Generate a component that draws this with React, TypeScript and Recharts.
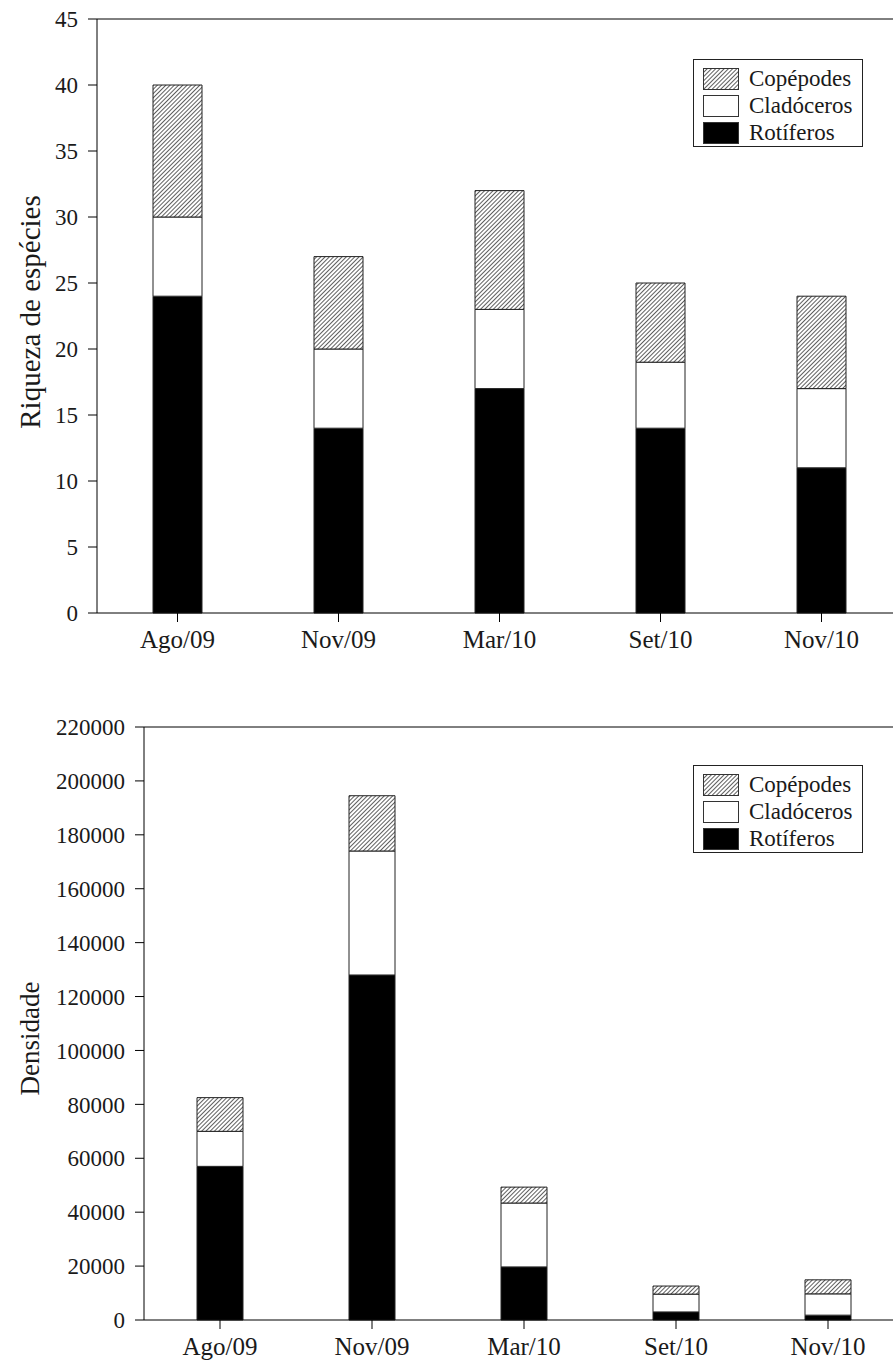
import React from "react";
import { Bar, BarChart, Legend, ReferenceLine, XAxis, YAxis } from "recharts";

const months = ["Ago/09", "Nov/09", "Mar/10", "Set/10", "Nov/10"];

// riqueza de espécies (top panel)
const riquezaRot = [24, 14, 17, 14, 11];
const riquezaClad = [6, 6, 6, 5, 6];
const riquezaCop = [10, 7, 9, 6, 7];
const riquezaTicks = [0, 5, 10, 15, 20, 25, 30, 35, 40, 45];

// densidade (bottom panel)
const densRot = [57000, 128000, 19700, 3000, 1800];
const densClad = [13000, 46000, 23700, 6600, 7900];
const densCop = [12500, 20500, 5900, 3000, 5200];
const densTicks = [0, 20000, 40000, 60000, 80000, 100000, 120000, 140000, 160000, 180000, 200000, 220000];

const FONT = "Liberation Serif, Times New Roman, DejaVu Serif, serif";
const INK = "#1a1a1a";

const buildRows = (rot: number[], clad: number[], cop: number[]) =>
  months.map((m, i) => ({ month: m, rot: rot[i], clad: clad[i], cop: cop[i] }));

const Hatch = ({ id }: { id: string }) => (
  <pattern id={id} patternUnits="userSpaceOnUse" width={3} height={3} patternTransform="rotate(45)">
    <rect width={3} height={3} fill="#ffffff" />
    <line x1={0} y1={0} x2={0} y2={3} stroke="#1a1a1a" strokeWidth={1.4} />
  </pattern>
);

function LegendBox({ hatchId }: { hatchId: string }) {
  const items = [
    { label: "Copépodes", fill: `url(#${hatchId}-lg)` },
    { label: "Cladóceros", fill: "#ffffff" },
    { label: "Rotíferos", fill: "#000000" },
  ];
  return (
    <div
      style={{
        border: "1px solid #222",
        background: "#fff",
        width: 170,
        height: 88,
        boxSizing: "border-box",
        paddingTop: 5,
        fontFamily: FONT,
        fontSize: 23,
        color: INK,
      }}
    >
      {items.map((it) => (
        <div key={it.label} style={{ display: "flex", alignItems: "center", height: 27, paddingLeft: 9 }}>
          <svg width={36} height={22} style={{ display: "block" }}>
            <defs>
              <Hatch id={`${hatchId}-lg`} />
            </defs>
            <rect x={0.5} y={0.5} width={35} height={21} fill={it.fill} stroke="#333" strokeWidth={1} />
          </svg>
          <span style={{ marginLeft: 10, lineHeight: "27px" }}>{it.label}</span>
        </div>
      ))}
    </div>
  );
}

type PanelProps = {
  rows: { month: string; rot: number; clad: number; cop: number }[];
  ticks: number[];
  max: number;
  title: string;
  titleSize: number;
  titleShift: number;
  axisWidth: number;
  plotWidth: number;
  plotTop: number;
  plotBottom: number;
  barSize: number;
  hatchId: string;
  legendTop: number;
};

function Panel({
  rows, ticks, max, title, titleSize, titleShift, axisWidth, plotWidth, plotTop, plotBottom, barSize, hatchId, legendTop,
}: PanelProps) {
  const width = 920;
  const height = plotBottom + 80;
  const tickStyle = { fontFamily: FONT, fontSize: 23, fill: INK };
  return (
    <BarChart
      width={width}
      height={height}
      data={rows}
      margin={{ top: plotTop, right: width - axisWidth - plotWidth, left: 0, bottom: 30 }}
    >
      <defs>
        <Hatch id={hatchId} />
      </defs>
      <XAxis
        dataKey="month"
        height={50}
        tickSize={9}
        tickMargin={8}
        stroke="#000"
        tick={{ fontFamily: FONT, fontSize: 25, fill: INK }}
      />
      <YAxis
        width={axisWidth}
        domain={[0, max]}
        ticks={ticks}
        interval={0}
        tickSize={9}
        tickMargin={10}
        stroke="#000"
        tick={tickStyle}
        label={({ viewBox }: any) => {
          const cy = viewBox.y + viewBox.height / 2 + titleShift;
          return (
            <text
              x={30}
              y={cy}
              transform={`rotate(-90, 30, ${cy})`}
              textAnchor="middle"
              dominantBaseline="central"
              fontFamily={FONT}
              fontSize={titleSize}
              fill={INK}
            >
              {title}
            </text>
          );
        }}
      />
      <ReferenceLine y={max} stroke="#000" />
      <Legend
        layout="vertical"
        align="center"
        verticalAlign="middle"
        wrapperStyle={{ top: legendTop, left: 693, width: 170 }}
        content={() => <LegendBox hatchId={hatchId} />}
      />
      <Bar dataKey="rot" stackId="a" fill="#000" stroke="#222" strokeWidth={1} barSize={barSize} isAnimationActive={false} />
      <Bar dataKey="clad" stackId="a" fill="#fff" stroke="#222" strokeWidth={1} barSize={barSize} isAnimationActive={false} />
      <Bar dataKey="cop" stackId="a" fill={`url(#${hatchId})`} stroke="#222" strokeWidth={1} barSize={barSize} isAnimationActive={false} />
    </BarChart>
  );
}

export default function App() {
  return (
    <div
      style={{
        position: "absolute",
        left: 0,
        top: 0,
        width: 893,
        height: 1371,
        overflow: "hidden",
        background: "#fff",
      }}
    >
      <div style={{ position: "absolute", left: 0, top: 0 }}>
        <Panel
          rows={buildRows(riquezaRot, riquezaClad, riquezaCop)}
          ticks={riquezaTicks}
          max={45}
          title="Riqueza de espécies"
          titleSize={29}
          titleShift={-4}
          axisWidth={97}
          plotWidth={805}
          plotTop={19}
          plotBottom={613}
          barSize={49}
          hatchId="hatchTop"
          legendTop={59}
        />
      </div>
      <div style={{ position: "absolute", left: 0, top: 700 }}>
        <Panel
          rows={buildRows(densRot, densClad, densCop)}
          ticks={densTicks}
          max={220000}
          title="Densidade"
          titleSize={27}
          titleShift={15}
          axisWidth={144}
          plotWidth={760}
          plotTop={27}
          plotBottom={620}
          barSize={46}
          hatchId="hatchBot"
          legendTop={65}
        />
      </div>
    </div>
  );
}
